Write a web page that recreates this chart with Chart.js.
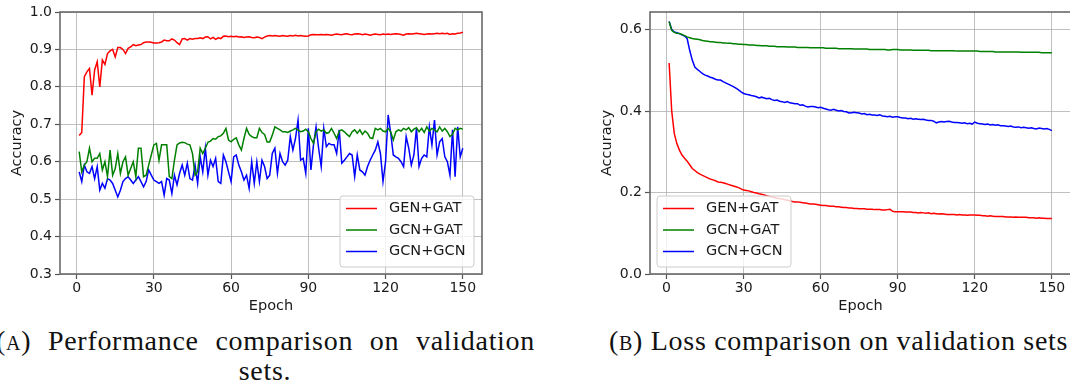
<!DOCTYPE html>
<html>
<head>
<meta charset="utf-8">
<script src="https://cdn.jsdelivr.net/npm/chart.js@4.4.0/dist/chart.umd.min.js"></script>
<style>
  html, body { margin: 0; padding: 0; background: #fff; }
  body { position: relative; width: 1070px; height: 390px; overflow: hidden; }
  canvas { position: absolute; top: 0; }
  #accChart { left: 0; }
  #lossChart { left: 540px; }
  .cap { position: absolute; font-family: "Liberation Serif", serif; font-size: 28px; letter-spacing: 0.7px; line-height: 30px; color: #111; white-space: nowrap; }
  .sc { font-variant: small-caps; }
</style>
</head>
<body>
<canvas id="accChart" width="540" height="320"></canvas>
<canvas id="lossChart" width="540" height="320"></canvas>
<div class="cap" style="left:-4px; top:326px; width:539px; text-align:justify; text-align-last:justify;"><span class="sc">(a)</span> Performance comparison on validation</div>
<div class="cap" style="left:215px; top:356px; width:100px; text-align:center;">sets.</div>
<div class="cap" style="left:609px; top:326px;"><span class="sc">(b)</span> Loss comparison on validation sets</div>
<script>
const epochs = Array.from({ length: 150 }, (_, i) => i + 1);
const xTicks = [0, 30, 60, 90, 120, 150];
const accTicks = [0.3, 0.4, 0.5, 0.6, 0.7, 0.8, 0.9, 1.0];
const lossTicks = [0.0, 0.2, 0.4, 0.6];
const seriesNames = ["GEN+GAT", "GCN+GAT", "GCN+GCN"];
const seriesColors = ["#ff0000", "#008000", "#0000ff"];

// validation accuracy
const accGenGat = [
  0.670, 0.678, 0.827, 0.840, 0.849, 0.778, 0.845, 0.867, 0.800, 0.872,
  0.860, 0.889, 0.896, 0.900, 0.880, 0.905, 0.905, 0.900, 0.889, 0.903,
  0.907, 0.913, 0.910, 0.912, 0.913, 0.918, 0.920, 0.920, 0.919, 0.917,
  0.917, 0.918, 0.920, 0.925, 0.923, 0.923, 0.928, 0.925, 0.918, 0.913,
  0.928, 0.929, 0.925, 0.929, 0.927, 0.929, 0.929, 0.931, 0.929, 0.933,
  0.934, 0.928, 0.932, 0.927, 0.931, 0.929, 0.935, 0.936, 0.934, 0.935,
  0.934, 0.935, 0.933, 0.934, 0.932, 0.933, 0.934, 0.932, 0.931, 0.933,
  0.932, 0.929, 0.933, 0.936, 0.937, 0.936, 0.937, 0.936, 0.935, 0.937,
  0.936, 0.935, 0.937, 0.936, 0.938, 0.936, 0.937, 0.936, 0.935, 0.936,
  0.939, 0.940, 0.939, 0.939, 0.940, 0.939, 0.940, 0.939, 0.938, 0.940,
  0.941, 0.940, 0.939, 0.941, 0.942, 0.940, 0.939, 0.941, 0.942, 0.941,
  0.939, 0.941, 0.940, 0.938, 0.940, 0.941, 0.940, 0.939, 0.941, 0.940,
  0.941, 0.940, 0.941, 0.942, 0.941, 0.940, 0.938, 0.941, 0.942, 0.941,
  0.942, 0.943, 0.942, 0.941, 0.940, 0.941, 0.942, 0.941, 0.942, 0.943,
  0.942, 0.943, 0.942, 0.943, 0.940, 0.942, 0.941, 0.943, 0.944, 0.946
];
const accGcnGat = [
  0.627, 0.573, 0.591, 0.600, 0.636, 0.600, 0.609, 0.609, 0.622, 0.578,
  0.600, 0.560, 0.631, 0.564, 0.582, 0.622, 0.569, 0.600, 0.613, 0.564,
  0.582, 0.600, 0.560, 0.636, 0.636, 0.560, 0.564, 0.591, 0.618, 0.645,
  0.649, 0.604, 0.645, 0.645, 0.645, 0.560, 0.555, 0.604, 0.645, 0.650,
  0.652, 0.651, 0.647, 0.645, 0.622, 0.564, 0.573, 0.636, 0.622, 0.636,
  0.652, 0.655, 0.662, 0.660, 0.667, 0.669, 0.676, 0.689, 0.658, 0.653,
  0.660, 0.664, 0.645, 0.631, 0.662, 0.689, 0.673, 0.667, 0.664, 0.664,
  0.689, 0.678, 0.673, 0.653, 0.653, 0.671, 0.693, 0.689, 0.685, 0.680,
  0.680, 0.678, 0.682, 0.685, 0.689, 0.685, 0.680, 0.682, 0.687, 0.680,
  0.662, 0.649, 0.680, 0.687, 0.682, 0.685, 0.676, 0.678, 0.689, 0.676,
  0.662, 0.682, 0.685, 0.680, 0.673, 0.667, 0.680, 0.685, 0.676, 0.685,
  0.673, 0.682, 0.676, 0.664, 0.662, 0.689, 0.685, 0.689, 0.682, 0.680,
  0.689, 0.680, 0.658, 0.680, 0.685, 0.682, 0.689, 0.685, 0.691, 0.680,
  0.687, 0.691, 0.680, 0.689, 0.678, 0.693, 0.682, 0.689, 0.685, 0.680,
  0.693, 0.682, 0.689, 0.680, 0.667, 0.673, 0.689, 0.685, 0.689, 0.687
];
const accGcnGcn = [
  0.573, 0.547, 0.591, 0.573, 0.569, 0.587, 0.555, 0.587, 0.524, 0.542,
  0.529, 0.555, 0.551, 0.542, 0.524, 0.506, 0.524, 0.547, 0.555, 0.560,
  0.551, 0.542, 0.551, 0.560, 0.547, 0.533, 0.547, 0.578, 0.564, 0.551,
  0.547, 0.542, 0.547, 0.511, 0.555, 0.551, 0.515, 0.564, 0.538, 0.569,
  0.591, 0.564, 0.596, 0.555, 0.551, 0.591, 0.542, 0.613, 0.573, 0.636,
  0.564, 0.604, 0.587, 0.609, 0.547, 0.542, 0.618, 0.600, 0.573, 0.547,
  0.613, 0.618, 0.591, 0.573, 0.551, 0.564, 0.529, 0.600, 0.542, 0.600,
  0.547, 0.604, 0.587, 0.555, 0.564, 0.622, 0.636, 0.569, 0.622, 0.600,
  0.591, 0.604, 0.667, 0.631, 0.662, 0.711, 0.604, 0.609, 0.569, 0.689,
  0.578, 0.645, 0.693, 0.636, 0.587, 0.689, 0.640, 0.649, 0.645, 0.645,
  0.622, 0.685, 0.596, 0.604, 0.613, 0.622, 0.618, 0.560, 0.618, 0.578,
  0.573, 0.564, 0.587, 0.604, 0.618, 0.631, 0.653, 0.622, 0.547, 0.600,
  0.725, 0.676, 0.618, 0.613, 0.609, 0.600, 0.587, 0.667, 0.636, 0.591,
  0.618, 0.689, 0.587, 0.609, 0.618, 0.613, 0.693, 0.645, 0.711, 0.618,
  0.653, 0.662, 0.613, 0.600, 0.564, 0.685, 0.560, 0.693, 0.613, 0.636
];

// validation loss
const lossGenGat = [
  0.518, 0.400, 0.345, 0.320, 0.304, 0.292, 0.284, 0.277, 0.268, 0.259,
  0.254, 0.249, 0.245, 0.242, 0.239, 0.236, 0.233, 0.231, 0.229, 0.226,
  0.225, 0.224, 0.222, 0.220, 0.218, 0.216, 0.214, 0.212, 0.209, 0.206,
  0.205, 0.204, 0.202, 0.200, 0.199, 0.197, 0.196, 0.194, 0.192, 0.190,
  0.189, 0.188, 0.186, 0.185, 0.184, 0.182, 0.181, 0.180, 0.178, 0.177,
  0.177, 0.176, 0.175, 0.174, 0.173, 0.172, 0.172, 0.171, 0.170, 0.169,
  0.168, 0.168, 0.167, 0.166, 0.166, 0.165, 0.165, 0.164, 0.163, 0.163,
  0.162, 0.162, 0.161, 0.161, 0.160, 0.160, 0.160, 0.159, 0.159, 0.159,
  0.158, 0.158, 0.158, 0.157, 0.157, 0.158, 0.159, 0.154, 0.153, 0.153,
  0.153, 0.153, 0.152, 0.152, 0.152, 0.151, 0.151, 0.150, 0.151, 0.150,
  0.149, 0.150, 0.148, 0.149, 0.148, 0.147, 0.148, 0.147, 0.146, 0.146,
  0.146, 0.146, 0.145, 0.146, 0.145, 0.145, 0.144, 0.145, 0.145, 0.145,
  0.144, 0.144, 0.143, 0.143, 0.142, 0.143, 0.142, 0.141, 0.141, 0.141,
  0.141, 0.140, 0.140, 0.140, 0.139, 0.140, 0.139, 0.139, 0.139, 0.139,
  0.138, 0.138, 0.138, 0.137, 0.138, 0.137, 0.137, 0.136, 0.136, 0.136
];
const lossGcnGat = [
  0.619, 0.598, 0.593, 0.591, 0.590, 0.588, 0.585, 0.582, 0.580, 0.578,
  0.577, 0.576, 0.575, 0.573, 0.572, 0.571, 0.570, 0.570, 0.569, 0.568,
  0.568, 0.567, 0.567, 0.566, 0.566, 0.565, 0.565, 0.564, 0.564, 0.563,
  0.563, 0.562, 0.562, 0.562, 0.561, 0.561, 0.560, 0.560, 0.560, 0.559,
  0.559, 0.559, 0.558, 0.558, 0.558, 0.558, 0.557, 0.557, 0.557, 0.557,
  0.556, 0.556, 0.556, 0.556, 0.556, 0.555, 0.555, 0.555, 0.555, 0.555,
  0.555, 0.554, 0.554, 0.554, 0.554, 0.554, 0.553, 0.553, 0.553, 0.553,
  0.553, 0.553, 0.552, 0.552, 0.552, 0.552, 0.552, 0.552, 0.551, 0.551,
  0.551, 0.551, 0.551, 0.551, 0.551, 0.550, 0.550, 0.551, 0.551, 0.551,
  0.550, 0.550, 0.550, 0.550, 0.550, 0.549, 0.549, 0.549, 0.549, 0.549,
  0.549, 0.549, 0.548, 0.548, 0.548, 0.548, 0.548, 0.548, 0.548, 0.548,
  0.548, 0.548, 0.547, 0.547, 0.547, 0.547, 0.547, 0.547, 0.547, 0.547,
  0.547, 0.546, 0.546, 0.546, 0.546, 0.546, 0.546, 0.545, 0.545, 0.545,
  0.545, 0.545, 0.545, 0.545, 0.545, 0.545, 0.545, 0.544, 0.544, 0.544,
  0.544, 0.544, 0.544, 0.544, 0.544, 0.543, 0.543, 0.543, 0.543, 0.543
];
const lossGcnGcn = [
  0.620, 0.600, 0.594, 0.592, 0.590, 0.587, 0.584, 0.578, 0.549, 0.525,
  0.508, 0.502, 0.497, 0.492, 0.488, 0.486, 0.483, 0.481, 0.478, 0.476,
  0.476, 0.472, 0.469, 0.466, 0.463, 0.460, 0.456, 0.452, 0.447, 0.443,
  0.441, 0.440, 0.438, 0.437, 0.435, 0.432, 0.434, 0.432, 0.430, 0.431,
  0.428, 0.426, 0.427, 0.424, 0.423, 0.421, 0.423, 0.420, 0.419, 0.418,
  0.418, 0.414, 0.415, 0.412, 0.410, 0.411, 0.411, 0.410, 0.408, 0.409,
  0.407, 0.405, 0.403, 0.402, 0.404, 0.402, 0.400, 0.401, 0.399, 0.398,
  0.395, 0.396, 0.397, 0.396, 0.395, 0.393, 0.394, 0.391, 0.392, 0.390,
  0.390, 0.389, 0.391, 0.388, 0.387, 0.386, 0.387, 0.385, 0.386, 0.386,
  0.384, 0.383, 0.383, 0.381, 0.382, 0.380, 0.381, 0.380, 0.379, 0.380,
  0.378, 0.377, 0.377, 0.375, 0.371, 0.373, 0.374, 0.373, 0.374, 0.375,
  0.373, 0.372, 0.372, 0.371, 0.370, 0.371, 0.369, 0.370, 0.368, 0.373,
  0.370, 0.369, 0.368, 0.367, 0.368, 0.366, 0.367, 0.365, 0.366, 0.364,
  0.364, 0.363, 0.362, 0.363, 0.361, 0.360, 0.361, 0.359, 0.360, 0.359,
  0.358, 0.359, 0.357, 0.356, 0.358, 0.357, 0.356, 0.357, 0.355, 0.352
];

const tickFont = { family: "DejaVu Sans", size: 14 };
const titleFont = { family: "DejaVu Sans", size: 14.5, lineHeight: 1.2 };
const gridStyle = {
  color: "#b0b0b0", lineWidth: 0.8, borderDash: [3, 2],
  tickColor: "#555", tickLength: 5, tickWidth: 1.2, tickBorderDash: []
};

// box round the plot + legend inside it
const frameLegend = {
  id: "frameLegend",
  afterDraw(chart, args, opts) {
    const { ctx, chartArea: a } = chart;
    ctx.save();
    ctx.strokeStyle = "#6a6a6a";
    ctx.lineWidth = 1.6;
    ctx.strokeRect(a.left, a.top, a.right - a.left, a.bottom - a.top);

    const w = 134, h = 71;
    const x = opts.side === "right" ? a.right - 8 - w : a.left + 7;
    const y = a.bottom - 7 - h;
    ctx.beginPath();
    ctx.roundRect(x, y, w, h, 3);
    ctx.fillStyle = "rgba(255,255,255,0.8)";
    ctx.fill();
    ctx.strokeStyle = "#cccccc";
    ctx.lineWidth = 1;
    ctx.stroke();

    ctx.font = "14.5px 'DejaVu Sans'";
    ctx.textBaseline = "middle";
    chart.data.datasets.forEach((ds, i) => {
      const ry = y + 12.5 + i * 21.5;
      ctx.strokeStyle = ds.borderColor;
      ctx.lineWidth = 1.5;
      ctx.beginPath();
      ctx.moveTo(x + 6, ry);
      ctx.lineTo(x + 37, ry);
      ctx.stroke();
      ctx.fillStyle = "#1a1a1a";
      ctx.fillText(ds.label, x + 49, ry);
    });
    ctx.restore();
  }
};

function makeChart(id, series, yMin, yMax, yTicks, padding, legendSide) {
  return new Chart(document.getElementById(id), {
    type: "line",
    data: {
      datasets: series.map((vals, i) => ({
        label: seriesNames[i],
        data: epochs.map((e, j) => ({ x: e, y: vals[j] })),
        borderColor: seriesColors[i],
        borderWidth: 1.5,
        pointRadius: 0,
        tension: 0,
        fill: false
      }))
    },
    options: {
      responsive: false,
      animation: false,
      devicePixelRatio: 1,
      layout: { padding: padding },
      plugins: {
        legend: { display: false },
        tooltip: { enabled: false },
        frameLegend: { side: legendSide }
      },
      scales: {
        x: {
          type: "linear",
          min: -6.45,
          max: 157.45,
          afterBuildTicks: s => { s.ticks = xTicks.map(v => ({ value: v })); },
          afterFit: s => { s.height = 46; },
          ticks: { font: tickFont, color: "#1a1a1a", padding: 1, maxRotation: 0 },
          grid: gridStyle,
          border: { display: false },
          title: { display: true, text: "Epoch", font: titleFont, color: "#1a1a1a", padding: { top: 0, bottom: 5 } }
        },
        y: {
          type: "linear",
          min: yMin,
          max: yMax,
          afterBuildTicks: s => { s.ticks = yTicks.map(v => ({ value: v })); },
          afterFit: s => { s.width = 60; },
          ticks: { font: tickFont, color: "#1a1a1a", padding: 3, callback: v => v.toFixed(1) },
          grid: gridStyle,
          border: { display: false },
          title: { display: true, text: "Accuracy", font: titleFont, color: "#1a1a1a", padding: { top: 8.5, bottom: 0 } }
        }
      }
    },
    plugins: [frameLegend]
  });
}

makeChart("accChart", [accGenGat, accGcnGat, accGcnGcn], 0.3, 1.0, accTicks,
  { left: 0, top: 12, right: 58, bottom: 0 }, "right");
makeChart("lossChart", [lossGenGat, lossGcnGat, lossGcnGcn], 0.0, 0.643, lossTicks,
  { left: 50, top: 12, right: 9, bottom: 0 }, "left");
</script>
</body>
</html>
